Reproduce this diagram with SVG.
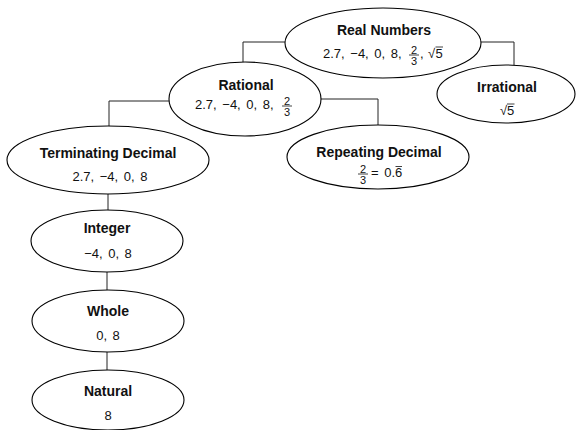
<svg xmlns="http://www.w3.org/2000/svg" width="576" height="430" viewBox="0 0 576 430">
<style>
.n{fill:#fff;stroke:#000;stroke-width:1.1}
.c{fill:none;stroke:#222;stroke-width:1}
.t{font-family:"Liberation Sans",Arial,sans-serif;font-size:14px;font-weight:bold;fill:#111;text-anchor:middle}
.v{font-family:"Liberation Sans",Arial,sans-serif;font-size:13px;fill:#111;word-spacing:2px}
.m{text-anchor:middle}
.f{font-family:"Liberation Sans",Arial,sans-serif;font-size:11px;fill:#111;text-anchor:middle}
.b{stroke:#111;stroke-width:0.8}
</style>
<rect width="576" height="430" fill="#fff"/>
<g id="connectors">
<path class="c" d="M285,42 H243 V62"/>
<path class="c" d="M480,42 H514 V65"/>
<path class="c" d="M169,101 H109 V126"/>
<path class="c" d="M320,99 H378 V125"/>
<path class="c" d="M108,194 V210"/>
<path class="c" d="M107,272 V290"/>
<path class="c" d="M107,352 V370"/>
</g>
<g id="real">
<ellipse class="n" cx="383" cy="43" rx="98" ry="35"/>
<text class="t" x="384" y="35">Real Numbers</text>
<text class="v" x="323" y="58">2.7, −4, 0, 8,</text>
<text class="f" x="414" y="53.5">2</text><line class="b" x1="409" y1="55" x2="419" y2="55"/><text class="f" x="414" y="64.5">3</text>
<text class="v" x="420" y="58">,</text><text class="v" x="428" y="58">√</text><text class="v" x="435.5" y="58">5</text>
<line class="b" x1="435.5" y1="47" x2="443" y2="47"/>
</g>
<g id="irrational">
<ellipse class="n" cx="506" cy="94" rx="69" ry="29"/>
<text class="t" x="507" y="92">Irrational</text>
<text class="v" x="500" y="115">√</text><text class="v" x="507" y="115">5</text>
<line class="b" x1="507" y1="104" x2="514.5" y2="104"/>
</g>
<g id="rational">
<ellipse class="n" cx="245" cy="99" rx="76" ry="37"/>
<text class="t" x="246" y="90">Rational</text>
<text class="v" x="195" y="109">2.7, −4, 0, 8,</text>
<text class="f" x="287" y="104.5">2</text><line class="b" x1="282" y1="106" x2="292" y2="106"/><text class="f" x="287" y="115.5">3</text>
</g>
<g id="terminating">
<ellipse class="n" cx="108" cy="160" rx="101" ry="34"/>
<text class="t" x="108" y="158">Terminating Decimal</text>
<text class="v m" x="110" y="181">2.7, −4, 0, 8</text>
</g>
<g id="repeating">
<ellipse class="n" cx="378" cy="157" rx="91" ry="32"/>
<text class="t" x="379" y="157">Repeating Decimal</text>
<text class="f" x="363" y="172.5">2</text><line class="b" x1="358" y1="174" x2="368" y2="174"/><text class="f" x="363" y="183.5">3</text>
<text class="v" x="371" y="177">= 0.6</text><line class="b" x1="395.5" y1="166.5" x2="402" y2="166.5"/>
</g>
<g id="integer">
<ellipse class="n" cx="107" cy="241" rx="76" ry="31"/>
<text class="t" x="107" y="233">Integer</text>
<text class="v m" x="108" y="258">−4, 0, 8</text>
</g>
<g id="whole">
<ellipse class="n" cx="108" cy="321" rx="76" ry="31"/>
<text class="t" x="108" y="316">Whole</text>
<text class="v m" x="108" y="340">0, 8</text>
</g>
<g id="natural">
<ellipse class="n" cx="108" cy="400" rx="76" ry="30"/>
<text class="t" x="108" y="396">Natural</text>
<text class="v m" x="108" y="420">8</text>
</g>
</svg>
